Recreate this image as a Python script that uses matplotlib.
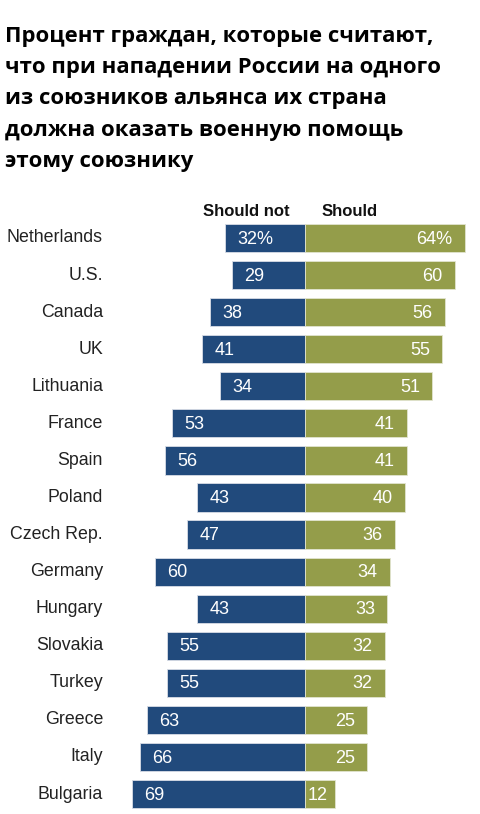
import matplotlib.pyplot as plt
import numpy as np

# data
countries = ['Netherlands', 'U.S.', 'Canada', 'UK', 'Lithuania', 'France', 'Spain',
             'Poland', 'Czech Rep.', 'Germany', 'Hungary', 'Slovakia', 'Turkey',
             'Greece', 'Italy', 'Bulgaria']
should_not = [32, 29, 38, 41, 34, 53, 56, 43, 47, 60, 43, 55, 55, 63, 66, 69]
should = [64, 60, 56, 55, 51, 41, 41, 40, 36, 34, 33, 32, 32, 25, 25, 12]

title = ('Процент граждан, которые считают,\n'
         'что при нападении России на одного\n'
         'из союзников альянса их страна\n'
         'должна оказать военную помощь\n'
         'этому союзнику')

blue = '#214a7c'
green = '#949d4a'

W, H = 481, 814
fig = plt.figure(figsize=(W/100, H/100), dpi=100)
ax = fig.add_axes([0, 0, 1, 1])

# pixel layout: center line at x=305, 2.5 px per point; rows every 37.07 px from y=238
cx, ppu = 305, 2.5
y0, dy = 238, 37.07
ax.set_xlim((0 - cx)/ppu, (W - cx)/ppu)
ax.set_ylim((H - y0)/dy, (0 - y0)/dy)
ax.axis('off')

y = np.arange(len(countries))
ax.barh(y, [-v for v in should_not], height=0.76, color=blue, edgecolor='#d8dde6', linewidth=0.6)
ax.barh(y, should, height=0.76, color=green, edgecolor='#e2e4d0', linewidth=0.6)

vfont = dict(family='Liberation Sans', fontsize=13, color='white', va='center')
for i, (n, s) in enumerate(zip(should_not, should)):
    nl = f'{n}%' if i == 0 else str(n)
    sl = f'{s}%' if i == 0 else str(s)
    ax.text(-n + 4.8, i + 0.03, nl, ha='left', **vfont)
    if s < 20:
        ax.text(1.0, i + 0.03, sl, ha='left', **vfont)
    else:
        ax.text(s - 5.0, i + 0.03, sl, ha='right', **vfont)
    ax.text((103 - cx)/ppu, i, countries[i], ha='right', va='center',
            family='Liberation Sans', fontsize=12.8, color='#222222')

hy = (211 - y0)/dy
ax.text((246 - cx)/ppu, hy, 'Should not', ha='center', va='center',
        family='Liberation Sans', fontsize=12, fontweight='bold', color='#111111')
ax.text((350 - cx)/ppu, hy, 'Should', ha='center', va='center',
        family='Liberation Sans', fontsize=12, fontweight='bold', color='#111111')

fig.text(5/W, 1 - 26/H, title, ha='left', va='top', family='Open Sans',
         fontsize=15.9, fontweight='bold', color='black', linespacing=1.64)

fig.savefig('out.png', dpi=100)
